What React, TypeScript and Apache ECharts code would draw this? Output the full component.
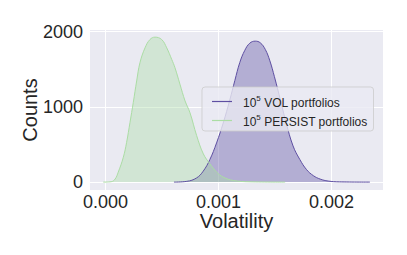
import React, { useEffect, useRef } from "react";
import * as echarts from "echarts";

const volX = [0.000606, 0.00072, 0.000806, 0.000865, 0.000924, 0.000983, 0.001042, 0.0011, 0.001145, 0.001189, 0.001233, 0.001277, 0.001325, 0.00137, 0.001415, 0.001455, 0.001495, 0.00155, 0.0016, 0.00166, 0.00172, 0.00178, 0.00184, 0.0019, 0.00197, 0.00207, 0.00234];
const volY = [0, 10, 55, 145, 300, 520, 785, 1090, 1350, 1590, 1750, 1845, 1872, 1850, 1760, 1610, 1400, 1080, 780, 480, 300, 165, 85, 40, 14, 3, 0];

const persistX = [-0.00002, 0.00005, 0.000085, 0.000113, 0.000158, 0.000187, 0.000217, 0.000246, 0.000276, 0.000305, 0.00035, 0.000394, 0.000438, 0.000497, 0.000542, 0.000586, 0.000615, 0.000659, 0.000704, 0.000748, 0.000807, 0.000866, 0.000924, 0.000984, 0.001042, 0.001131, 0.00128, 0.00159];
const persistY = [0, 5, 40, 132, 330, 528, 793, 1057, 1343, 1585, 1783, 1894, 1925, 1894, 1783, 1630, 1519, 1300, 1079, 920, 617, 375, 243, 132, 66, 22, 4, 0];

const xTicks = [0, 0.001, 0.002];
const yTicks = [0, 1000, 2000];
const seriesNames = ["VOL", "PERSIST"];

const FONT = "'Liberation Sans', Arial, sans-serif";
const purple = "#5e4fa2";
const green = "#abdda4";

function legendLabel(name: string) {
  return "{n|10}{sup|5}{n| " + name + " portfolios}";
}

export default function App() {
  const ref = useRef<HTMLDivElement>(null);
  useEffect(() => {
    if (!ref.current) return;
    const chart = echarts.init(ref.current, null, { renderer: "svg" });
    const zip = (xs: number[], ys: number[]) => xs.map((x, i) => [x, ys[i]]);
    chart.setOption({
      animation: false,
      grid: {
        left: 90,
        right: 24,
        top: 30,
        bottom: 65,
        show: true,
        backgroundColor: "#eaeaf2",
        borderWidth: 0,
      },
      xAxis: {
        type: "value",
        min: -0.000137,
        max: 0.002456,
        name: "Volatility",
        nameLocation: "middle",
        nameGap: 21,
        nameMoveOverlap: false,
        nameTextStyle: { fontSize: 20, lineHeight: 20, color: "#262626", fontFamily: FONT },
        axisLine: { show: false },
        axisTick: { show: false, customValues: xTicks },
        axisLabel: {
          customValues: xTicks,
          formatter: (v: number) => v.toFixed(3),
          fontSize: 18,
          lineHeight: 16,
          color: "#262626",
          fontFamily: FONT,
          margin: 4,
        },
        splitLine: { show: true, lineStyle: { color: "#ffffff", width: 1 } },
      },
      yAxis: {
        type: "value",
        min: -105,
        max: 2020,
        name: "Counts",
        nameLocation: "middle",
        nameGap: 50,
        nameMoveOverlap: false,
        nameTextStyle: { fontSize: 20, color: "#262626", fontFamily: FONT },
        axisLine: { show: false },
        axisTick: { show: false, customValues: yTicks },
        axisLabel: {
          customValues: yTicks,
          formatter: (v: number) => String(v),
          fontSize: 18,
          color: "#262626",
          fontFamily: FONT,
          margin: 7,
        },
        splitLine: { show: true, lineStyle: { color: "#ffffff", width: 1 } },
      },
      legend: {
        orient: "vertical",
        left: 202,
        top: 87,
        padding: [7, 6, 3, 10],
        itemGap: 4,
        itemWidth: 20,
        itemHeight: 1.2,
        icon: "rect",
        backgroundColor: "rgba(234,234,242,0.8)",
        borderColor: "rgba(204,204,204,0.8)",
        borderWidth: 1,
        borderRadius: 3,
        data: [
          { name: seriesNames[0], itemStyle: { color: purple } },
          { name: seriesNames[1], itemStyle: { color: green } },
        ],
        formatter: legendLabel,
        textStyle: {
          fontSize: 12,
          color: "#262626",
          fontFamily: FONT,
          padding: [0, 0, 0, 6],
          rich: {
            n: { fontSize: 12, lineHeight: 15, verticalAlign: "bottom", color: "#262626", fontFamily: FONT },
            sup: { fontSize: 8, lineHeight: 8, verticalAlign: "top", color: "#262626", fontFamily: FONT },
          },
        },
      },
      series: [
        {
          name: seriesNames[0],
          type: "line",
          data: zip(volX, volY),
          smooth: 0.4,
          symbol: "none",
          lineStyle: { color: purple, width: 1 },
          itemStyle: { color: purple },
          areaStyle: { color: purple, opacity: 0.39 },
        },
        {
          name: seriesNames[1],
          type: "line",
          data: zip(persistX, persistY),
          smooth: 0.4,
          symbol: "none",
          lineStyle: { color: green, width: 1 },
          itemStyle: { color: green },
          areaStyle: { color: green, opacity: 0.39 },
        },
      ],
    });
    return () => chart.dispose();
  }, []);
  return <div ref={ref} style={{ width: 407, height: 255, margin: -8 }} />;
}
